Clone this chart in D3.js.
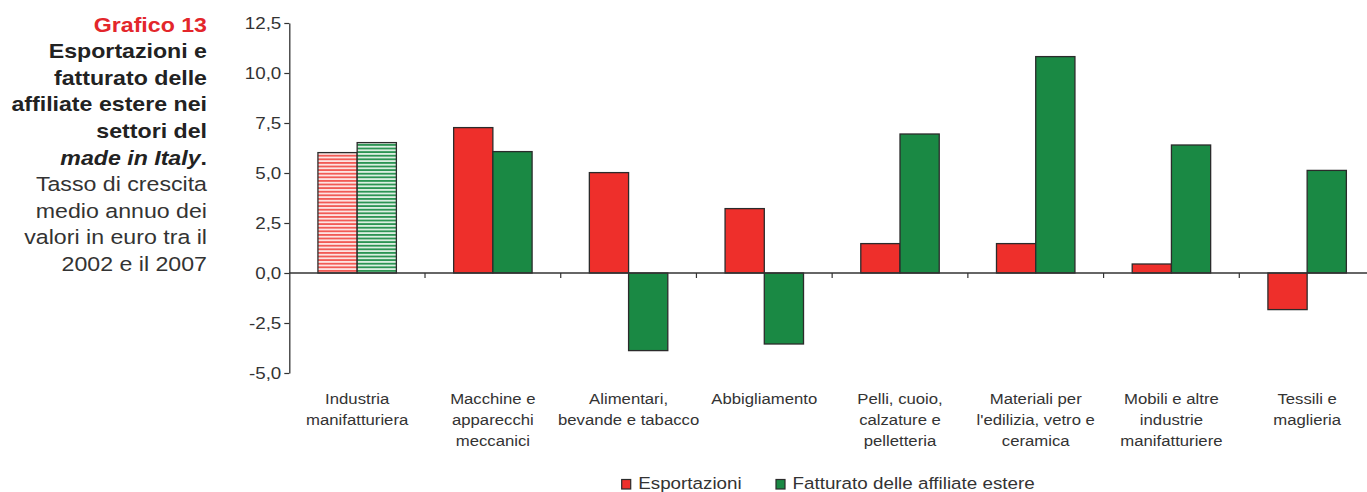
<!DOCTYPE html>
<html>
<head>
<meta charset="utf-8">
<script src="https://cdn.jsdelivr.net/npm/d3@7"></script>
<style>
  html, body { margin: 0; padding: 0; background: #fff; }
  svg { display: block; font-family: "Liberation Sans", Arial, Helvetica, sans-serif; }
</style>
</head>
<body>
<svg id="chart" width="1367" height="492"></svg>
<script>
// ---- data ----
const categories = [
  "Industria manifatturiera",
  "Macchine e apparecchi meccanici",
  "Alimentari, bevande e tabacco",
  "Abbigliamento",
  "Pelli, cuoio, calzature e pelletteria",
  "Materiali per l'edilizia, vetro e ceramica",
  "Mobili e altre industrie manifatturiere",
  "Tessili e maglieria"
];
const categoryLabelLines = [
  ["Industria", "manifatturiera"],
  ["Macchine e", "apparecchi", "meccanici"],
  ["Alimentari,", "bevande e tabacco"],
  ["Abbigliamento"],
  ["Pelli, cuoio,", "calzature e", "pelletteria"],
  ["Materiali per", "l'edilizia, vetro e", "ceramica"],
  ["Mobili e altre", "industrie", "manifatturiere"],
  ["Tessili e", "maglieria"]
];
const seriesNames = ["Esportazioni", "Fatturato delle affiliate estere"];
const esportazioni = [6.02, 7.27, 5.02, 3.22, 1.47, 1.47, 0.45, -1.83];
const fatturato = [6.52, 6.07, -3.88, -3.55, 6.95, 10.82, 6.40, 5.13];
const hatchedCategories = ["Industria manifatturiera"];
const yTicks = [-5, -2.5, 0, 2.5, 5, 7.5, 10, 12.5];
const titleLines = [
  "Grafico 13",
  "Esportazioni e",
  "fatturato delle",
  "affiliate estere nei",
  "settori del",
  "made in Italy.",
  "Tasso di crescita",
  "medio annuo dei",
  "valori in euro tra il",
  "2002 e il 2007"
];

// ---- setup ----
const RED = "#ee2f2b", GREEN = "#1a8944", INK = "#2b2b2b", TXT = "#333";
const svg = d3.select("#chart");
const defs = svg.append("defs");
function hatch(id, bg, fg) {
  const p = defs.append("pattern").attr("id", id).attr("patternUnits", "userSpaceOnUse")
    .attr("width", 10).attr("height", 3.6);
  p.append("rect").attr("width", 10).attr("height", 3.6).attr("fill", bg);
  p.append("rect").attr("y", 0).attr("width", 10).attr("height", 1.8).attr("fill", fg);
}
hatch("hatchRed", "#fde3e2", "#f15a55");
hatch("hatchGreen", "#dcefe2", "#2c9453");

const x = d3.scaleBand().domain(categories).range([289.3, 1375]).paddingInner(0).paddingOuter(0);
const xs = d3.scaleBand().domain(seriesNames).range([0, x.bandwidth()]).paddingInner(0).paddingOuter(0.73);
const y = d3.scaleLinear().domain([-5, 12.5]).range([373, 23]);
const color = d3.scaleOrdinal().domain(seriesNames).range([RED, GREEN]);
const hatchId = d3.scaleOrdinal().domain(seriesNames).range(["url(#hatchRed)", "url(#hatchGreen)"]);

const locale = d3.formatLocale({decimal: ",", thousands: ".", grouping: [3], currency: ["", "€"], minus: "-"});
const fmt = locale.format(".1f");

// ---- title block ----
const tg = svg.append("g").attr("class", "title");
const tBase = 31.5, tStep = 26.6;
titleLines.forEach((line, i) => {
  const t = tg.append("text")
    .attr("transform", `translate(207,${tBase + i * tStep}) scale(1.13,1)`)
    .attr("text-anchor", "end")
    .attr("font-size", 20.5);
  if (i === 0) {
    t.attr("fill", "#e3262b").attr("font-weight", "bold").text(line);
  } else if (i < 5) {
    t.attr("fill", "#222").attr("font-weight", "bold").text(line);
  } else if (i === 5) {
    t.attr("fill", "#222").attr("font-weight", "bold");
    t.append("tspan").attr("font-style", "italic").text("made in Italy");
    t.append("tspan").text(".");
  } else {
    t.attr("fill", TXT).text(line);
  }
});

// ---- bars ----
const rows = categories.map((c, i) => ({cat: c, values: [
  {series: seriesNames[0], value: esportazioni[i]},
  {series: seriesNames[1], value: fatturato[i]}
]}));

const barG = svg.append("g");
const groups = barG.selectAll("g.cat").data(rows).join("g")
  .attr("class", "cat").attr("transform", d => `translate(${x(d.cat)},0)`);
groups.each(function(row) {
  const hatched = hatchedCategories.includes(row.cat);
  d3.select(this).selectAll("rect").data(row.values).join("rect")
    .attr("x", d => xs(d.series))
    .attr("width", xs.bandwidth())
    .attr("y", d => y(Math.max(0, d.value)))
    .attr("height", d => Math.abs(y(d.value) - y(0)))
    .attr("fill", d => hatched ? hatchId(d.series) : color(d.series))
    .attr("stroke", INK)
    .attr("stroke-width", 1.3);
});

// ---- y axis ----
const yAxis = svg.append("g").attr("transform", "translate(289.3,0)")
  .call(d3.axisLeft(y).tickValues(yTicks).tickFormat(fmt).tickSize(5).tickSizeOuter(0).tickPadding(8));
yAxis.select(".domain").attr("stroke", "#333").attr("stroke-width", 1.3);
yAxis.selectAll(".tick line").attr("stroke", "#333").attr("stroke-width", 1.2);
yAxis.selectAll(".tick text")
  .attr("x", null).attr("dy", null)
  .attr("transform", `translate(-8,5.6) scale(1.16,1)`)
  .attr("font-size", 16.2).attr("fill", TXT)
  .attr("font-family", "Liberation Sans, Arial, sans-serif");

// ---- x axis (zero line) ----
const xAxis = svg.append("g");
xAxis.append("line").attr("x1", x.range()[0]).attr("x2", x.range()[1])
  .attr("y1", y(0)).attr("y2", y(0)).attr("stroke", "#333").attr("stroke-width", 1.3);
xAxis.selectAll("line.tick").data(categories.slice(1)).join("line")
  .attr("class", "tick")
  .attr("x1", d => x(d)).attr("x2", d => x(d))
  .attr("y1", y(0)).attr("y2", y(0) + 5)
  .attr("stroke", "#333").attr("stroke-width", 1.2);

// ---- category labels ----
const labG = svg.append("g");
categories.forEach((c, i) => {
  const cx = x(c) + x.bandwidth() / 2;
  categoryLabelLines[i].forEach((line, j) => {
    labG.append("text")
      .attr("transform", `translate(${cx},${403.5 + j * 21}) scale(1.1,1)`)
      .attr("text-anchor", "middle")
      .attr("font-size", 15.2)
      .attr("fill", TXT)
      .text(line);
  });
});

// ---- legend ----
const legendX = [621.7, 776];
const lg = svg.append("g");
seriesNames.forEach((s, i) => {
  lg.append("rect").attr("x", legendX[i]).attr("y", 479.5).attr("width", 9).attr("height", 9.5)
    .attr("fill", color(s)).attr("stroke", INK).attr("stroke-width", 1.2);
  lg.append("text")
    .attr("transform", `translate(${legendX[i] + 16.5},488.5) scale(1.12,1)`)
    .attr("font-size", 16.8).attr("fill", TXT).text(s);
});
</script>
</body>
</html>
